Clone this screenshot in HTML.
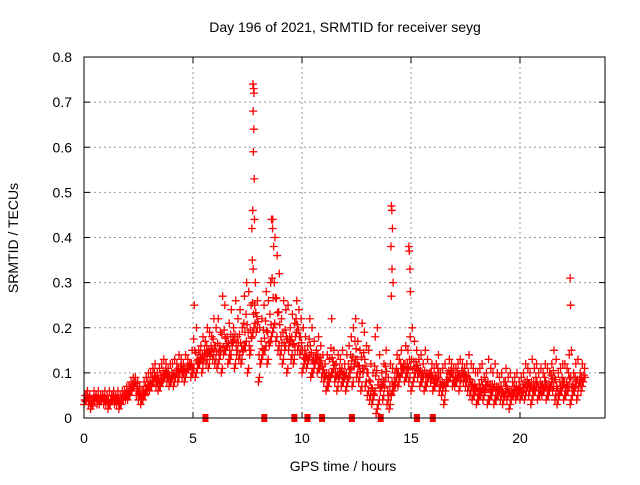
<!DOCTYPE html>
<html><head><meta charset="utf-8"><style>
body{margin:0;background:#fff;}
svg text{font-family:"Liberation Sans",sans-serif;font-size:14px;fill:#000;}
</style></head><body>
<svg id="chart" width="640" height="480" viewBox="0 0 640 480">
<text x="345" y="32" text-anchor="middle">Day 196 of 2021, SRMTID for receiver seyg</text>
<text transform="translate(18,238) rotate(-90)" text-anchor="middle">SRMTID / TECUs</text>
<text x="343" y="471" text-anchor="middle">GPS time / hours</text>
<g id="grid"></g><g id="axes"></g><g id="marks"></g>
<rect x="84" y="57" width="521" height="361" fill="none" stroke="#000"/>
</svg>
<script>
const xTicks=[0,5,10,15,20];
const yTicks=[0,0.1,0.2,0.3,0.4,0.5,0.6,0.7,0.8];
const lowVals=[.03,.04,.03,.02,.03,.04,.03,.03,.04,.03,.03,.02,.03,.04,.03,.03,.02,.03,.04,.04,.04,.05,.06,.07,.05,.04,.03,.04,.05,.06,.06,.07,.08,.07,.06,.07,.08,.09,.08,.07,.08,.07,.09,.08,.1,.09,.08,.1,.11,.09,.1,.09,.11,.12,.1,.13,.12,.11,.14,.13,.12,.11,.13,.1,.14,.15,.12,.13,.16,.11,.14,.13,.12,.15,.16,.1,.14,.18,.2,.19,.08,.12,.14,.15,.12,.16,.18,.2,.17,.15,.14,.12,.15,.1,.16,.13,.12,.18,.15,.14,.1,.12,.11,.13,.09,.1,.12,.1,.11,.09,.08,.06,.07,.09,.1,.08,.06,.09,.07,.08,.06,.08,.1,.07,.12,.09,.08,.06,.1,.07,.05,.04,.03,.05,.01,.03,.06,.04,.08,.03,.02,.05,.06,.08,.07,.09,.1,.08,.09,.08,.06,.08,.1,.09,.07,.08,.06,.07,.09,.08,.06,.07,.08,.06,.05,.03,.07,.08,.09,.07,.07,.08,.06,.09,.08,.07,.06,.05,.04,.05,.03,.04,.05,.04,.06,.03,.04,.05,.03,.04,.05,.04,.03,.05,.04,.02,.04,.05,.04,.05,.04,.05,.04,.06,.05,.03,.05,.06,.04,.05,.05,.06,.04,.05,.07,.06,.04,.03,.05,.06,.04,.05,.06,.03,.05,.06,.04,.07,.06,.08];
const highVals=[.05,.06,.05,.04,.06,.05,.06,.05,.05,.06,.05,.06,.05,.06,.05,.06,.05,.06,.06,.07,.07,.08,.09,.09,.08,.07,.06,.08,.09,.1,.1,.11,.12,.1,.11,.12,.13,.12,.11,.12,.12,.13,.12,.14,.13,.12,.14,.13,.12,.15,.25,.2,.15,.16,.18,.17,.2,.19,.18,.22,.2,.22,.19,.27,.25,.18,.21,.24,.2,.26,.22,.24,.2,.27,.3,.28,.25,.33,.3,.26,.2,.22,.25,.28,.26,.3,.44,.4,.36,.32,.22,.26,.24,.25,.2,.23,.21,.26,.24,.22,.2,.18,.16,.22,.2,.17,.15,.18,.16,.14,.12,.14,.13,.22,.15,.12,.14,.13,.15,.12,.14,.16,.18,.2,.22,.17,.15,.21,.19,.16,.15,.12,.1,.18,.2,.14,.1,.12,.15,.09,.12,.11,.1,.14,.13,.15,.12,.16,.15,.18,.2,.17,.15,.13,.14,.12,.15,.13,.1,.12,.11,.12,.14,.1,.11,.12,.1,.13,.12,.11,.11,.12,.13,.12,.11,.12,.14,.12,.11,.1,.1,.11,.12,.09,.1,.13,.11,.1,.12,.1,.09,.1,.08,.11,.09,.1,.08,.09,.1,.08,.09,.1,.12,.11,.1,.13,.11,.12,.1,.11,.1,.12,.11,.1,.12,.15,.13,.1,.11,.12,.12,.11,.14,.15,.1,.12,.13,.1,.12,.11];
const spikeHours=[7.75,7.78,7.8,7.76,7.79,7.77,7.81,7.74,7.82,7.7,7.72,8.6,8.65,8.7,14.1,14.12,14.15,14.08,14.13,14.1,14.18,14.9,14.92,14.95,14.97,22.3,22.32];
const spikeVals=[.74,.73,.72,.68,.64,.59,.53,.46,.44,.42,.35,.44,.42,.38,.47,.46,.42,.38,.33,.27,.3,.38,.37,.33,.28,.31,.25];
const squareHours=[5.57,8.27,9.65,10.25,10.92,12.29,13.61,15.27,16.0];
const X0=84,XS=21.8,Y0=418,YS=451.25;
const xs=h=>X0+h*XS, ys=v=>Y0-v*YS;
const NS='http://www.w3.org/2000/svg';
const grid=document.getElementById('grid'),axes=document.getElementById('axes'),marks=document.getElementById('marks');
function mk(tag,attrs,parent){const e=document.createElementNS(NS,tag);for(const k in attrs)e.setAttribute(k,attrs[k]);parent.appendChild(e);return e;}
xTicks.forEach(t=>{const x=xs(t);
 if(t>0){const g=mk('line',{x1:x,x2:x,y1:57,y2:418,stroke:'#999','stroke-dasharray':'2,3'},grid);
 
 }
 mk('line',{x1:x,x2:x,y1:418,y2:412,stroke:'#000'},axes);mk('line',{x1:x,x2:x,y1:57,y2:63,stroke:'#000'},axes);
 const tx=mk('text',{x:x,y:443,'text-anchor':'middle'},axes);tx.textContent=t;
 
 });
yTicks.forEach(t=>{const y=ys(t);
 if(t>0&&t<0.8){const g=mk('line',{x1:84,x2:605,y1:y,y2:y,stroke:'#999','stroke-dasharray':'2,3'},grid);
 
 }
 mk('line',{x1:84,x2:90,y1:y,y2:y,stroke:'#000'},axes);mk('line',{x1:605,x2:599,y1:y,y2:y,stroke:'#000'},axes);
 const tx=mk('text',{x:72,y:y+5,'text-anchor':'end'},axes);tx.textContent=t===0?'0':t.toFixed(1);
 
 });
let d='';
function plus(h,v){const x=xs(h),y=ys(v);d+=`M${x-4},${y}h8M${x},${y-4}v8`;}
lowVals.forEach((v,i)=>{const h=i/10;plus(h,v);plus(h+0.03,(v+highVals[i])/2);plus(h+0.06,highVals[i]);plus(h+0.05,v+0.01);plus(h+0.08,(v*2+highVals[i])/3);});
spikeHours.forEach((h,i)=>plus(h,spikeVals[i]));
const p=mk('path',{d:d,stroke:'#f00','stroke-width':1.3,fill:'none'},marks);


squareHours.forEach(h=>{const r=mk('rect',{x:xs(h)-3,y:414,width:6,height:8,fill:'#f00'},marks);
 
 });
</script>
</body></html>
